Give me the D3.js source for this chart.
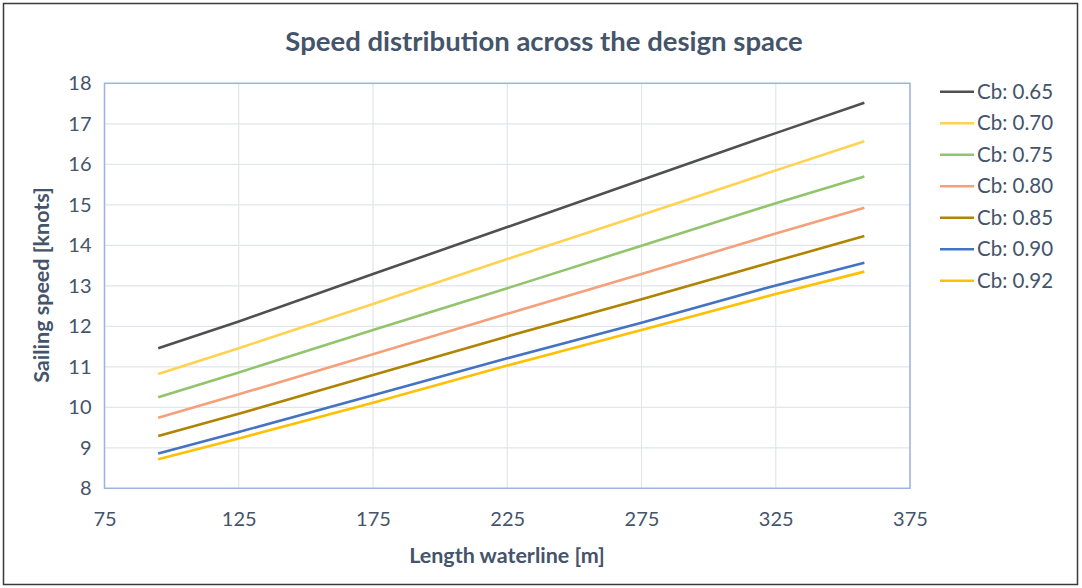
<!DOCTYPE html>
<html>
<head>
<meta charset="utf-8">
<script src="https://cdn.jsdelivr.net/npm/d3@7/dist/d3.min.js"></script>
<style>
  html, body { margin: 0; padding: 0; background: #fff; }
  svg { display: block; font-family: Lato, "Open Sans", sans-serif; }
</style>
</head>
<body>
<svg id="chart" width="1082" height="588"></svg>
<script>
// Waterline lengths [m] at which speeds were evaluated
const lengths = [95, 125, 175, 225, 275, 325, 358];

// Block coefficient series labels
const seriesNames = ["Cb: 0.65", "Cb: 0.70", "Cb: 0.75", "Cb: 0.80", "Cb: 0.85", "Cb: 0.90", "Cb: 0.92"];

// Sailing speed [knots] per block coefficient
const speedCb065 = [11.46, 12.12, 13.29, 14.45, 15.61, 16.77, 17.52];
const speedCb070 = [10.82, 11.46, 12.55, 13.66, 14.75, 15.85, 16.57];
const speedCb075 = [10.25, 10.86, 11.91, 12.94, 13.99, 15.04, 15.70];
const speedCb080 = [9.74, 10.32, 11.31, 12.31, 13.29, 14.29, 14.93];
const speedCb085 = [9.29, 9.84, 10.80, 11.75, 12.67, 13.61, 14.23];
const speedCb090 = [8.86, 9.39, 10.30, 11.21, 12.09, 13.01, 13.57];
const speedCb092 = [8.72, 9.23, 10.11, 11.03, 11.91, 12.80, 13.35];

const seriesValues = [speedCb065, speedCb070, speedCb075, speedCb080, speedCb085, speedCb090, speedCb092];
const seriesColors = ["#505050", "#FFD24F", "#92C46C", "#F4A07A", "#B08400", "#4472C4", "#FFC000"];

// Axis ticks
const xTicks = [75, 125, 175, 225, 275, 325, 375];
const yTicks = [8, 9, 10, 11, 12, 13, 14, 15, 16, 17, 18];

const textColor = "#44546A";
const svg = d3.select("#chart");

// outer frame
svg.append("rect")
  .attr("x", 3.5).attr("y", 3.5)
  .attr("width", 1074).attr("height", 581)
  .attr("fill", "#fff").attr("stroke", "#3a3a3a").attr("stroke-width", 1.5);

const plot = { left: 104.5, right: 910, top: 83.3, bottom: 488.3 };

const x = d3.scaleLinear().domain([75, 375]).range([plot.left, plot.right]);
const y = d3.scaleLinear().domain([8, 18]).range([plot.bottom, plot.top]);

// gridlines
const grid = svg.append("g");
grid.selectAll("line.h").data(yTicks).join("line")
  .attr("x1", plot.left).attr("x2", plot.right)
  .attr("y1", d => y(d)).attr("y2", d => y(d))
  .attr("stroke", "#E2E5EC").attr("stroke-width", 1.2);
grid.selectAll("line.v").data(xTicks).join("line")
  .attr("y1", plot.top).attr("y2", plot.bottom)
  .attr("x1", d => x(d)).attr("x2", d => x(d))
  .attr("stroke", "#E2E5EC").attr("stroke-width", 1.2);

// plot area border
svg.append("rect")
  .attr("x", plot.left).attr("y", plot.top)
  .attr("width", plot.right - plot.left).attr("height", plot.bottom - plot.top)
  .attr("fill", "none").attr("stroke", "#9DB4DE").attr("stroke-width", 1.5);

// axes (tick labels only)
const xAxis = svg.append("g")
  .attr("transform", `translate(0,${plot.bottom})`)
  .call(d3.axisBottom(x).tickValues(xTicks).tickSize(0).tickPadding(24));
const yAxis = svg.append("g")
  .attr("transform", `translate(${plot.left},0)`)
  .call(d3.axisLeft(y).tickValues(yTicks).tickSize(0).tickPadding(13));
[xAxis, yAxis].forEach(a => {
  a.select(".domain").remove();
  a.selectAll("text")
    .attr("fill", textColor)
    .style("font-family", "Lato, 'Open Sans', sans-serif")
    .style("font-size", "20px");
});

// series lines
const line = d3.line().x((d, i) => x(lengths[i])).y(d => y(d));
svg.append("g").selectAll("path").data(seriesValues).join("path")
  .attr("d", d => line(d))
  .attr("fill", "none")
  .attr("stroke", (d, i) => seriesColors[i])
  .attr("stroke-width", 2.6)
  .attr("stroke-linejoin", "round");

// title
svg.append("text")
  .attr("x", 544).attr("y", 51)
  .attr("text-anchor", "middle")
  .attr("fill", textColor)
  .style("font-size", "27.5px").style("font-weight", "bold")
  .text("Speed distribution across the design space");

// axis titles
svg.append("text")
  .attr("x", 507).attr("y", 563)
  .attr("text-anchor", "middle")
  .attr("fill", textColor)
  .style("font-size", "21.5px").style("font-weight", "bold")
  .text("Length waterline [m]");
svg.append("text")
  .attr("transform", "translate(49,285) rotate(-90)")
  .attr("text-anchor", "middle")
  .attr("fill", textColor)
  .style("font-size", "21.5px").style("font-weight", "bold")
  .text("Sailing speed [knots]");

// legend
const legend = svg.append("g");
const rows = legend.selectAll("g").data(seriesNames).join("g")
  .attr("transform", (d, i) => `translate(940,${91.7 + i * 31.5})`);
rows.append("line")
  .attr("x1", 0).attr("x2", 34)
  .attr("stroke", (d, i) => seriesColors[i]).attr("stroke-width", 2.6);
rows.append("text")
  .attr("x", 37).attr("dy", "0.35em")
  .attr("fill", textColor)
  .style("font-size", "20.5px")
  .text(d => d);
</script>
</body>
</html>
